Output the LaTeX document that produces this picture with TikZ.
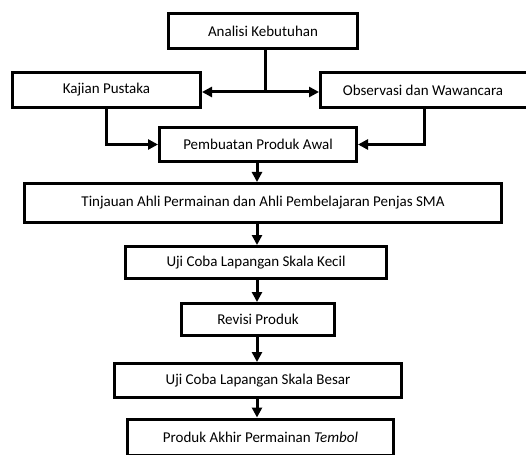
\documentclass[tikz,border=0pt]{standalone}
\usepackage{fontspec}
\setmainfont{Carlito}
\usetikzlibrary{arrows.meta}
\begin{document}
\begin{tikzpicture}[x=1pt,y=-1pt,
  box/.style={draw=black, line width=3pt, fill=white, inner sep=0pt, font=\fontsize{15}{18}\selectfont},
  arr/.style={line width=3pt, -{Triangle[length=10pt,width=10pt]}},
  ln/.style={line width=3pt}]
\useasboundingbox (0,0) rectangle (526,454);
\fill[white] (0,0) rectangle (526,454);
\clip (0,0) rectangle (526,454);
\node[box, minimum width=189pt, minimum height=35pt] (ana) at (263,31) {Analisi Kebutuhan};
\node[box, minimum width=188pt, minimum height=35pt] (kaj) at (106.5,90) {Kajian Pustaka};
\node[box, minimum width=210pt, minimum height=35pt] (obs) at (425.5,90) {\hspace*{-5pt}Observasi dan Wawancara};
\node[box, minimum width=197pt, minimum height=34pt] (pem) at (258,144.5) {Pembuatan Produk Awal};
\node[box, minimum width=477pt, minimum height=39pt] (tin) at (263,203) {Tinjauan Ahli Permainan dan Ahli Pembelajaran Penjas SMA};
\node[box, minimum width=261pt, minimum height=32pt] (ujk) at (256,262.5) {Uji Coba Lapangan Skala Kecil};
\node[box, minimum width=153pt, minimum height=32pt] (rev) at (258,319.5) {Revisi Produk};
\node[box, minimum width=287pt, minimum height=34pt] (ujb) at (258,380.5) {Uji Coba Lapangan Skala Besar};
\node[box, minimum width=266pt, minimum height=36pt] (akh) at (260.5,437) {Produk Akhir Permainan \textit{Tembol}};
\coordinate (split) at (265,92);
\coordinate (axis) at (257,0);
\coordinate (obsdrop) at (424,0);
\draw[ln] (ana.south -| split) -- (split);
\draw[arr] (split) -- (split -| kaj.east);
\draw[arr] (split) -- (split -| obs.west);
\draw[arr] (kaj.south) |- (pem.west);
\draw[arr] (obs.south -| obsdrop) |- (pem.east);
\draw[arr] (pem.south -| axis) -- (tin.north -| axis);
\draw[arr] (tin.south -| axis) -- (ujk.north -| axis);
\draw[arr] (ujk.south -| axis) -- (rev.north -| axis);
\draw[arr] (rev.south -| axis) -- (ujb.north -| axis);
\draw[arr] (ujb.south -| axis) -- (akh.north -| axis);
\end{tikzpicture}
\end{document}
